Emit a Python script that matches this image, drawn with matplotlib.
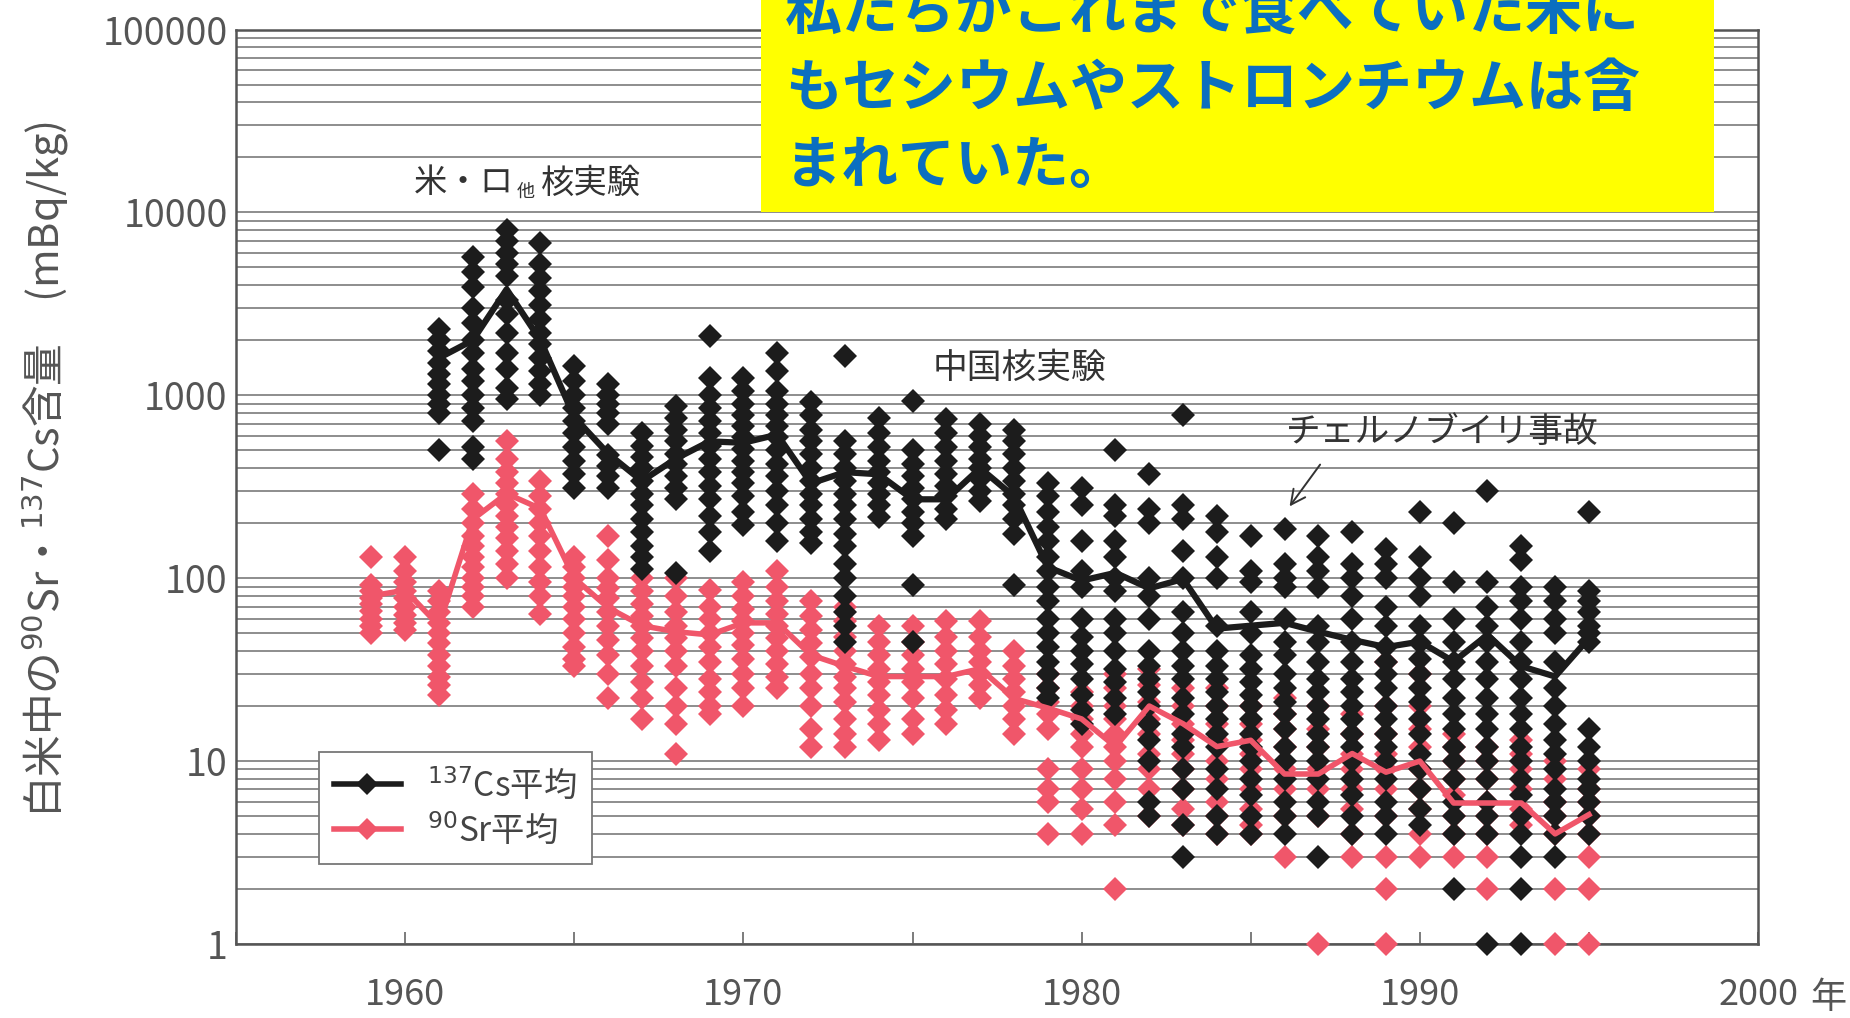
import numpy as np
import matplotlib
matplotlib.use('Agg')
import matplotlib.pyplot as plt
from matplotlib.lines import Line2D
from matplotlib.patches import Rectangle
from matplotlib.ticker import LogLocator, NullFormatter

plt.rcParams['font.family'] = ['Noto Sans CJK JP', 'DejaVu Sans']

# ---- data (mBq/kg) ----
cs_years = list(range(1961, 1996))
cs_mean = [1600, 2000, 3800, 2000, 760, 480, 340, 450, 560, 550, 610, 330, 380, 370,
           270, 270, 400, 280, 115, 97, 107, 88, 99, 53, 55, 57, 51, 46, 42, 45,
           35, 49, 33, 29, 47]
cs_samples = [
    [2300, 2000, 1750, 1500, 1300, 1150, 1000, 900, 800, 500],
    [5700, 4700, 3900, 3000, 2500, 2000, 1700, 1400, 1200, 1000, 850, 720, 520, 450],
    [8000, 7000, 6000, 5200, 4500, 3300, 2800, 2200, 1700, 1400, 1100, 950],
    [6800, 5200, 4400, 3700, 3100, 2600, 2200, 1900, 1600, 1350, 1150, 1000],
    [1450, 1200, 1000, 850, 720, 620, 520, 440, 370, 310],
    [1150, 1000, 900, 800, 700, 470, 410, 360, 310],
    [620, 530, 460, 400, 340, 290, 250, 210, 180, 150, 130, 112],
    [870, 750, 650, 560, 480, 420, 360, 310, 270, 107],
    [2100, 1250, 1000, 850, 720, 620, 530, 450, 380, 320, 270, 220, 180, 140],
    [1250, 1050, 900, 780, 680, 590, 510, 440, 380, 330, 280, 230, 195],
    [1700, 1350, 1050, 900, 780, 680, 590, 500, 420, 360, 300, 250, 200, 160],
    [920, 780, 650, 560, 480, 400, 340, 290, 250, 210, 180, 155],
    [1650, 560, 480, 400, 340, 290, 250, 210, 175, 150, 120, 100, 80, 65, 55, 45],
    [750, 620, 520, 440, 380, 330, 290, 250, 215],
    [930, 500, 420, 360, 310, 270, 230, 200, 170, 92, 45],
    [740, 620, 520, 440, 370, 320, 280, 240, 210],
    [700, 600, 520, 450, 400, 350, 300, 265],
    [650, 560, 480, 400, 340, 290, 250, 210, 175, 92],
    [330, 280, 230, 190, 160, 130, 110, 90, 75, 60, 50, 42, 35, 30, 25, 22],
    [310, 250, 160, 110, 90, 60, 48, 40, 34, 28, 23, 19, 16],
    [500, 250, 220, 160, 130, 100, 85, 60, 50, 40, 32, 27, 22, 18],
    [370, 240, 200, 100, 80, 60, 40, 33, 28, 24, 20, 16, 13, 10, 6, 5],
    [780, 250, 210, 140, 100, 65, 50, 40, 33, 28, 22, 18, 14, 12, 9, 7, 4.5, 3],
    [220, 180, 130, 100, 55, 40, 33, 28, 24, 20, 17, 14, 12, 9, 7, 5, 4],
    [170, 110, 95, 65, 50, 38, 32, 27, 23, 20, 17, 14, 12, 10, 8, 6.5, 5, 4],
    [185, 120, 100, 90, 60, 45, 38, 30, 25, 21, 18, 15, 12, 10, 8, 6, 5, 4],
    [170, 130, 110, 90, 55, 45, 35, 28, 24, 20, 17, 14, 12, 10, 8, 6, 5, 3],
    [180, 120, 100, 80, 60, 45, 35, 28, 24, 20, 17, 14, 12, 10, 8, 6.5, 5, 4],
    [145, 120, 100, 70, 55, 42, 35, 30, 25, 20, 17, 14, 12, 10, 8, 6, 5, 4],
    [230, 130, 100, 80, 55, 44, 36, 30, 25, 21, 17, 14, 11, 9, 7, 5.5, 4.5],
    [200, 95, 60, 45, 35, 28, 22, 18, 15, 12, 10, 8, 6, 5, 4, 2],
    [300, 95, 70, 55, 45, 35, 28, 22, 18, 15, 12, 10, 8, 6, 5, 4, 1],
    [150, 125, 90, 75, 60, 45, 35, 28, 22, 18, 15, 12, 10, 8, 6.5, 5, 4, 3, 2, 1],
    [90, 75, 60, 50, 35, 25, 20, 16, 13, 11, 9, 7, 6, 5, 4, 3],
    [230, 85, 75, 65, 55, 50, 45, 15, 12, 10, 8, 7, 6, 5, 4],
]

sr_years = list(range(1959, 1996))
sr_mean = [80, 86, 55, 210, 290, 240, 100, 69, 55, 51, 49, 57, 57, 38, 33, 29, 29,
           29, 32, 22, 19.5, 17, 12, 20, 16, 12, 13, 8.5, 8.5, 11, 8.7, 10, 5.9,
           5.9, 5.9, 4.0, 5.1]
sr_samples = [
    [130, 92, 85, 78, 72, 66, 60, 55, 50],
    [130, 110, 95, 85, 78, 70, 63, 57, 52],
    [85, 75, 65, 57, 50, 44, 38, 33, 29, 26, 23],
    [290, 240, 200, 170, 150, 130, 115, 100, 90, 80, 70],
    [560, 450, 380, 330, 290, 250, 220, 190, 165, 140, 120, 100],
    [340, 280, 240, 200, 170, 140, 115, 95, 80, 64],
    [130, 115, 100, 90, 80, 70, 60, 50, 42, 36, 33],
    [170, 125, 100, 88, 78, 65, 55, 46, 38, 30, 22],
    [100, 85, 72, 62, 55, 47, 40, 33, 27, 22, 17],
    [100, 80, 65, 55, 47, 40, 33, 25, 20, 16, 11],
    [86, 70, 60, 50, 42, 35, 28, 24, 20, 18],
    [95, 80, 68, 58, 50, 43, 36, 30, 25, 20],
    [110, 90, 75, 64, 55, 47, 40, 34, 29, 25],
    [75, 62, 52, 44, 37, 30, 25, 20, 15, 12],
    [70, 58, 48, 40, 34, 29, 25, 21, 17, 14, 12],
    [55, 45, 38, 32, 27, 23, 19, 16, 13],
    [55, 45, 38, 32, 27, 22, 17, 14],
    [58, 48, 40, 34, 28, 23, 19, 16],
    [58, 48, 40, 35, 30, 26, 22],
    [40, 33, 28, 24, 20, 17, 14],
    [30, 25, 21, 18, 15, 9, 7, 6, 4],
    [24, 20, 17, 14, 12, 9, 7, 5.5, 4],
    [30, 25, 20, 17, 14, 12, 10, 8, 6, 4.5, 2],
    [32, 26, 21, 17, 14, 11, 9, 7, 5],
    [25, 20, 16, 13, 11, 9, 7, 5.5, 4.5],
    [25, 20, 16, 13, 10, 8, 6, 5, 4],
    [20, 16, 13, 11, 9, 7, 5.5, 4.5, 4],
    [22, 18, 15, 12, 9, 7, 5, 3],
    [20, 15, 12, 9, 7, 5, 1],
    [18, 14, 11, 9, 7, 5.5, 4, 3],
    [35, 20, 14, 11, 9, 7, 5, 3, 2, 1],
    [30, 20, 15, 12, 9, 7, 5.5, 4, 3],
    [14, 12, 10, 8, 6.5, 5, 4, 3],
    [12, 10, 8, 6, 5, 4, 3, 2],
    [13, 11, 9, 7, 5.5, 4.5],
    [10, 8, 6, 5, 4, 2, 1],
    [9, 7, 6, 5, 4, 3, 2, 1],
]

y_ticks = [1, 10, 100, 1000, 10000, 100000]
y_ticklabels = ['1', '10', '100', '1000', '10000', '100000']
x_ticks = [1955, 1960, 1965, 1970, 1975, 1980, 1985, 1990, 1995, 2000]
x_ticklabels = ['', '1960', '', '1970', '', '1980', '', '1990', '', '2000']

BLACK = '#1c1c1c'
RED = '#f0566a'
GRAY = '#555555'


def flatten(years, samples):
    xs, ys = [], []
    for yr, vals in zip(years, samples):
        xs.extend([yr] * len(vals))
        ys.extend(vals)
    return xs, ys


fig = plt.figure(figsize=(18.5, 10.18), dpi=100)
ax = fig.add_axes([0.1276, 0.0727, 0.8227, 0.8983])

ax.set_yscale('log')
ax.set_xlim(1955, 2000)
ax.set_ylim(1, 100000)

# horizontal grid on every log step
ax.yaxis.set_minor_locator(LogLocator(base=10, subs=np.arange(2, 10)))
ax.yaxis.set_minor_formatter(NullFormatter())
ax.grid(True, which='both', axis='y', color='#858585', lw=1.3, zorder=0)
ax.set_axisbelow(True)

ax.set_yticks(y_ticks)
ax.set_yticklabels(y_ticklabels)
ax.set_xticks(x_ticks)
ax.set_xticklabels(x_ticklabels)
ax.tick_params(axis='y', which='both', length=0, pad=6, labelsize=27, labelcolor=GRAY)
ax.tick_params(axis='x', direction='in', length=9, width=1.2, color='#666666',
               pad=24, labelsize=26, labelcolor=GRAY)
for sp in ax.spines.values():
    sp.set_color('#555555')
    sp.set_linewidth(1.8)

# scatter of individual samples
sx, sy = flatten(sr_years, sr_samples)
ax.plot(sx, sy, 'D', color=RED, ms=12.5, mew=0, ls='none', zorder=3, clip_on=False)
cx, cy = flatten(cs_years, cs_samples)
ax.plot(cx, cy, 'D', color=BLACK, ms=12.5, mew=0, ls='none', zorder=3, clip_on=False)

# yearly means
ax.plot(cs_years, cs_mean, color=BLACK, lw=4.5, zorder=4)
ax.plot(sr_years, sr_mean, color=RED, lw=4, zorder=5)

# event labels
ax.text(1960.25, 14500, '米・ロ', fontsize=24, color='#333333', va='center', ha='left')
ax.text(1963.3, 13000, '他', fontsize=13, color='#333333', va='center', ha='left')
ax.text(1964.0, 14500, '核実験', fontsize=24, color='#333333', va='center', ha='left')
ax.text(1975.6, 1400, '中国核実験', fontsize=25, color='#333333', va='center', ha='left')
ax.text(1986.05, 630, 'チェルノブイリ事故', fontsize=25, color='#333333', va='center', ha='left')
ax.annotate('', xy=(1986.1, 240), xytext=(1987.1, 430),
            arrowprops=dict(arrowstyle='->', color='#333333', lw=1.4, mutation_scale=26))

handles = [
    Line2D([], [], color=BLACK, lw=4, marker='D', ms=11, mew=0),
    Line2D([], [], color=RED, lw=4, marker='D', ms=11, mew=0),
]
leg = ax.legend(handles, [r'$^{137}$Cs平均', r'$^{90}$Sr平均'], loc='lower left',
                bbox_to_anchor=(0.0545, 0.0875), borderaxespad=0, fontsize=24,
                frameon=True, fancybox=False, framealpha=1, edgecolor='#777777',
                handlelength=2.0, labelspacing=0.25, borderpad=0.45)
leg.get_frame().set_linewidth(1.3)
for t in leg.get_texts():
    t.set_color('#444444')

fig.text(45 / 1850, 1 - 469 / 1018, r'白米中の$^{90}$Sr・$^{137}$Cs含量　(mBq/kg)',
         rotation=90, fontsize=30, color=GRAY, ha='center', va='center')
fig.text(1810 / 1850, 1 - 998 / 1018, '年', fontsize=26, color=GRAY, ha='left', va='center')

# yellow caption box
fig.patches.append(Rectangle((761 / 1850, 1 - 212 / 1018), (1714 - 761) / 1850, 212 / 1018,
                             transform=fig.transFigure, facecolor='#ffff00',
                             edgecolor='none', zorder=10))
caption = ['私たちがこれまで食べていた米に', 'もセシウムやストロンチウムは含', 'まれていた。']
for i, line in enumerate(caption):
    fig.text(785 / 1850, 1 - (12 + 77 * i) / 1018, line, fontsize=41, fontweight='bold',
             color='#0b6fc0', ha='left', va='center', zorder=11)

fig.savefig('out.png', dpi=100)
